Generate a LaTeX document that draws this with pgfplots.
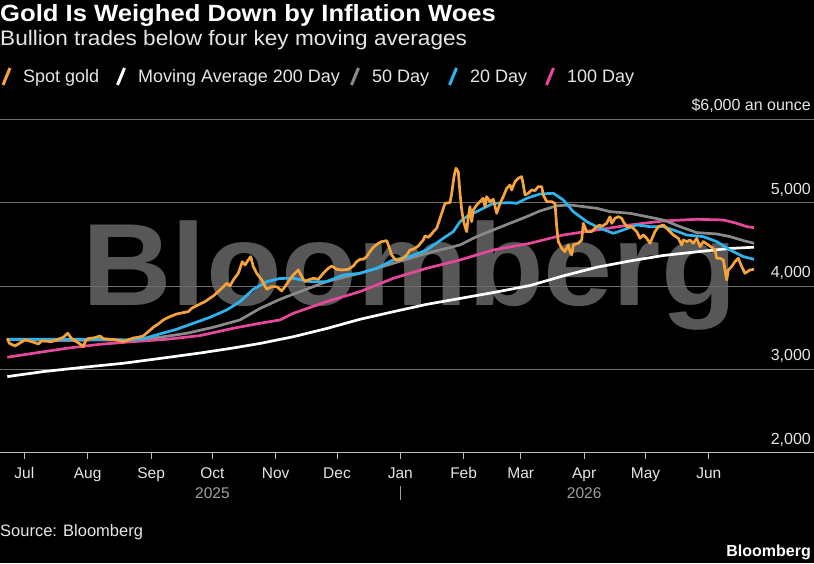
\documentclass[border=0pt]{standalone}
\usepackage{pgfplots}
\pgfplotsset{compat=1.18}
\usepackage{fontspec}
\setmainfont{Liberation Sans}
\definecolor{cOrange}{HTML}{F5A33A}
\definecolor{cBlue}{HTML}{2DB3F0}
\definecolor{cPink}{HTML}{E8489B}
\definecolor{cGray}{HTML}{8A8A8A}
\definecolor{cGrid}{HTML}{6E6E6E}
\definecolor{cAxis}{HTML}{BBBBBB}
\definecolor{cLabel}{HTML}{E6E6E6}
\definecolor{cYear}{HTML}{A0A0A0}
\definecolor{cWater}{HTML}{575757}
\begin{document}
\begin{tikzpicture}[x=1pt,y=1pt]
\useasboundingbox (0,0) rectangle (814,563);
\fill[black] (0,0) rectangle (814,563);
% watermark
\node[anchor=base west, inner sep=0pt, text=cWater] at (82,257) {\scalebox{1.06}[1]{\fontsize{117}{120}\selectfont\bfseries Bloomberg}};
% titles
\node[anchor=base west, inner sep=0pt, text=white] at (0,541) {\scalebox{1.09}[1]{\fontsize{23.5}{26}\selectfont\bfseries Gold Is Weighed Down by Inflation Woes}};
\node[anchor=base west, inner sep=0pt, text=cLabel] at (0,517) {\scalebox{1.075}[1]{\fontsize{21}{24}\selectfont Bullion trades below four key moving averages}};
% legend
\begin{scope}[line width=3pt]
\draw[cOrange] (3,478) -- (10,495);
\draw[white] (117.5,478) -- (124.5,495);
\draw[cGray] (351.5,478) -- (358.5,495);
\draw[cBlue] (449.5,478) -- (456.5,495);
\draw[cPink] (546.5,478) -- (553.5,495);
\end{scope}
\begin{scope}[every node/.style={anchor=base west, inner sep=0pt, text=cLabel, font=\fontsize{18}{20}\selectfont}]
\node at (23,480) {Spot gold};
\node at (138,480) {Moving Average 200 Day};
\node at (372,480) {50 Day};
\node at (470,480) {20 Day};
\node at (567,480) {100 Day};
\end{scope}
\begin{axis}[
  at={(0pt,110.4pt)}, anchor=south west, scale only axis,
  width=814pt, height=333.3pt,
  xmin=0, xmax=814, ymin=2000, ymax=6000,
  axis x line*=bottom, axis y line*=right,
  y axis line style={draw=none},
  x axis line style={draw=cAxis, line width=1pt},
  ymajorgrids, grid style={draw=cGrid, line width=0.8pt},
  ytick={2000,3000,4000,5000,6000},
  yticklabels={},
  ytick style={draw=none},
  xtick={24.4,87.7,151.1,212.4,275.7,337,400.3,463.6,520.8,584.2,645.5,708.8},
  xticklabels={Jul,Aug,Sep,Oct,Nov,Dec,Jan,Feb,Mar,Apr,May,Jun},
  tick align=outside, major tick length=6pt,
  xtick style={draw=cAxis, line width=1pt},
  xticklabel style={anchor=base, inner sep=0pt, yshift=-19.4pt, font=\fontsize{15.5}{18}\selectfont, text=cLabel},
  clip=false,
  every axis plot/.append style={line width=2.7pt, line join=round},
]
% y labels (right side, above the grid lines)
\begin{scope}[every node/.style={anchor=base east, inner sep=0pt, yshift=8.5pt, text=cLabel, font=\fontsize{16}{18}\selectfont}]
\node at (axis cs:811,2000) {2,000};
\node at (axis cs:811,3000) {3,000};
\node at (axis cs:811,4000) {4,000};
\node at (axis cs:811,5000) {5,000};
\node at (axis cs:811,6000) {\$6,000 an ounce};
\end{scope}
% 200-day moving average
\addplot[white] coordinates {(7.3,2912)(43.3,2972)(83.3,3024)(123.3,3072)(160,3130)(200,3195)(233,3255)(260,3310)(293,3390)(327,3490)(360,3600)(393,3690)(427,3780)(460,3850)(493,3920)(530,4005)(563,4120)(597,4225)(630,4300)(663,4365)(697,4410)(730,4450)(754,4465)};
% 100-day
\addplot[cPink] coordinates {(7.3,3144)(33.3,3192)(66.7,3252)(100,3300)(133.3,3332)(166.7,3360)(200,3404)(233.3,3492)(260,3552)(280,3592)(293.3,3672)(326.7,3812)(360,3932)(393.3,4092)(426.7,4212)(460,4312)(493.3,4432)(530,4512)(563.3,4612)(596.7,4672)(630,4732)(663.3,4780)(696.7,4800)(723.3,4792)(736.7,4752)(746.7,4712)(754,4700)};
% 50-day
\addplot[cGray] coordinates {(7.3,3358)(33.3,3352)(66.7,3344)(100,3352)(133.3,3352)(160,3384)(186.7,3432)(213.3,3504)(240,3592)(260,3730)(280,3840)(300,3932)(326.7,4052)(360,4152)(393.3,4272)(410,4332)(426.7,4392)(446.7,4452)(460,4492)(476.7,4592)(493.3,4672)(510,4752)(526.7,4832)(540,4900)(556.7,4962)(570,4972)(583.3,4952)(596.7,4932)(610,4892)(630,4872)(646.7,4832)(663.3,4792)(680,4712)(696.7,4640)(716.7,4624)(730,4592)(743.3,4544)(754,4512)};
% 20-day
\addplot[cBlue] coordinates {(7.3,3360)(33.3,3360)(66.7,3360)(100,3360)(126.7,3352)(143.3,3368)(160,3424)(176.7,3480)(193.3,3552)(210,3624)(226.7,3712)(240,3812)(253.3,3960)(266.7,4052)(280,4090)(293.3,4092)(310,4052)(326.7,4052)(343.3,4132)(360,4152)(376.7,4212)(393.3,4312)(410,4352)(426.7,4432)(443.3,4572)(453.3,4652)(460,4772)(466.7,4832)(476.7,4892)(493.3,4992)(510,5000)(516.7,4992)(526.7,5052)(540,5104)(553.3,5112)(563.3,5032)(573.3,4892)(586.7,4772)(600,4692)(613.3,4632)(623.3,4672)(636.7,4732)(650,4712)(663.3,4712)(673.3,4672)(686.7,4612)(703.3,4592)(716.7,4532)(730,4432)(743.3,4352)(754,4320)};
% spot gold
\addplot[cOrange] coordinates {(7.3,3372)(9.3,3312)(15,3280)(18.3,3304)(25,3352)(31.7,3332)(38.3,3304)(41.7,3340)(51.7,3332)(58.3,3360)(63.3,3384)(67.7,3432)(71.7,3368)(80,3304)(83.3,3272)(86,3352)(88.3,3368)(95,3380)(100,3400)(103.3,3368)(110,3360)(116.7,3352)(123.3,3332)(128.3,3352)(133.3,3376)(138.3,3384)(143.3,3400)(148.3,3452)(153.3,3504)(158.3,3544)(163.3,3592)(170,3632)(176.7,3664)(183.3,3680)(188.3,3692)(191.7,3732)(198.3,3772)(205,3812)(213.3,3880)(220,3952)(226.7,4032)(230,4000)(233.3,4072)(238.3,4152)(242.3,4292)(245,4252)(248.3,4312)(250.7,4352)(253.3,4232)(256.7,4152)(261.7,4072)(266.7,3960)(271.7,3992)(276.7,3992)(281.7,3940)(285,3992)(288.3,4052)(293.3,4132)(298.3,4192)(301.7,4112)(305,4052)(308.3,4072)(313.3,4092)(318.3,4080)(323.3,4152)(328.3,4212)(331.7,4240)(336.7,4200)(341.7,4192)(348.3,4200)(353.3,4240)(356.7,4292)(360,4320)(363.3,4320)(366.7,4352)(370,4412)(373.3,4464)(378.3,4512)(381.7,4532)(386.7,4544)(388.3,4492)(391.7,4372)(395,4320)(398.3,4312)(401.7,4320)(406.7,4372)(410,4432)(413.3,4440)(418.3,4480)(423.3,4552)(425,4600)(428.3,4584)(431.7,4624)(433.3,4652)(436.7,4692)(441.7,4872)(445,4992)(450,5000)(451.7,5112)(454,5312)(456,5412)(458.3,5372)(460,5112)(461.7,4912)(463.3,4792)(465,4712)(466.7,4652)(468.3,4832)(470,4952)(471.7,4772)(473.3,4912)(476.7,4972)(480,5012)(483.3,5052)(485,4952)(486.7,5072)(490,5012)(493.3,5040)(496.7,4872)(500,4992)(503.3,5072)(506.7,5172)(510,5212)(511.7,5152)(515,5252)(518.3,5292)(521.7,5312)(523.3,5212)(525,5092)(528.3,5112)(531.7,5152)(535,5144)(538.3,5192)(541.7,5192)(543.3,5092)(546.7,5012)(551.7,5012)(555,4992)(556.7,4712)(558.3,4532)(561.7,4452)(565,4412)(568.3,4492)(570,4412)(571.7,4372)(573.3,4492)(578.3,4512)(581.7,4552)(583.3,4752)(586.7,4652)(591.7,4652)(596.7,4712)(600,4732)(601.7,4712)(606.7,4752)(610,4832)(611.7,4752)(615,4812)(618.3,4832)(621.7,4812)(623.3,4772)(626.7,4712)(631.7,4712)(636.7,4652)(640,4572)(643.3,4612)(646.7,4572)(650,4512)(655,4652)(658.3,4712)(663.3,4732)(666.7,4692)(670,4652)(673.3,4612)(678.3,4572)(681.7,4492)(683.3,4552)(686.7,4532)(690,4552)(693.3,4512)(696.7,4572)(700,4472)(703.3,4532)(708.3,4492)(711.7,4464)(715,4432)(716.7,4332)(720,4332)(723.3,4312)(725,4192)(726.7,4072)(728.3,4192)(731.7,4232)(735,4292)(738.3,4332)(741.7,4232)(745,4152)(750,4192)(754,4200)};
\end{axis}
% year row
\node[anchor=base, inner sep=0pt, text=cYear, font=\fontsize{15.5}{18}\selectfont] at (212.4,65) {2025};
\node[anchor=base, inner sep=0pt, text=cYear, font=\fontsize{15.5}{18}\selectfont] at (584.2,65) {2026};
\draw[cYear, line width=1pt] (400.3,63) -- (400.3,77);
% source
\node[anchor=base west, inner sep=0pt, text=cLabel, font=\fontsize{16.5}{18}\selectfont] at (0,26.3) {Source: Bloomberg};
\node[anchor=base east, inner sep=0pt, text=white, font=\fontsize{16}{18}\selectfont\bfseries] at (811,7) {Bloomberg};
\end{tikzpicture}
\end{document}
